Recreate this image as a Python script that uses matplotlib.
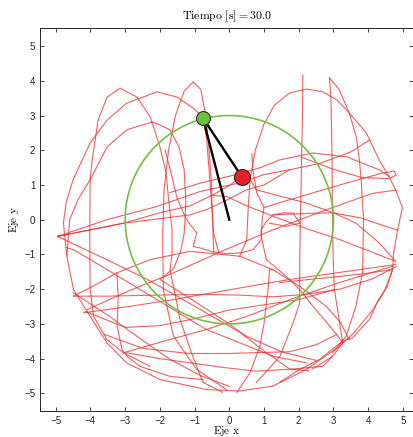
import numpy as np
import matplotlib
matplotlib.use("Agg")
import matplotlib.pyplot as plt

# Estado del pendulo doble en t = 30 s
t_final = 30.0
L1 = 3.0
rod_x = [0.0, -0.76, 0.36]
rod_y = [0.0, 2.93, 1.24]

# Tramos de la trayectoria de la segunda masa (x, y)
arc_a = [(-2.29, -4.22), (-3.05, -3.83), (-3.53, -3.45), (-3.91, -2.78), (-4.01, -2.01),
         (-4.02, -0.5), (-4.01, 1.15), (-3.95, 1.72), (-3.78, 2.87), (-3.52, 3.53), (-3.15, 3.79),
         (-2.66, 3.53), (-2.28, 2.96), (-2.0, 2.1), (-1.82, 1.35), (-1.75, 0.6), (-1.65, -0.3),
         (-1.65, -1.0), (-1.71, -1.44), (-1.55, -2.2), (-1.42, -2.87), (-1.1, -3.8),
         (-0.76, -4.68), (-0.19, -4.97)]
arc_b = [(-0.3, -0.95), (-0.45, -0.4), (-0.5, 0.3), (-0.56, 1.15), (-0.65, 2.3), (-0.76, 2.96),
         (-1.05, 3.22), (-1.51, 3.53), (-2.08, 3.68), (-2.95, 3.36), (-3.52, 2.87), (-4.01, 2.21),
         (-4.5, 1.15), (-4.7, 0.5), (-4.78, -0.1), (-4.68, -1.05), (-4.49, -2.01), (-4.01, -2.78),
         (-3.53, -3.54), (-2.96, -4.12), (-2.0, -4.6), (-0.66, -4.89), (0.3, -4.93), (1.26, -4.79)]
arc_c = [(-4.68, -1.05), (-4.6, 0.0), (-4.35, 0.6), (-4.01, 1.15), (-3.52, 2.1), (-2.95, 2.59),
         (-2.2, 2.82), (-1.71, 2.59), (-1.45, 2.1), (-1.3, 1.44), (-1.25, 0.5), (-1.3, -0.4),
         (-1.4, -0.9), (-1.6, -1.4), (-2.0, -1.72), (-1.0, -2.35), (0.0, -3.0), (0.9, -3.7),
         (1.74, -4.3), (2.3, -4.35)]
loop_d = [(-0.08, -4.89), (-0.94, -4.31), (-1.61, -3.35), (-1.9, -2.01), (-1.92, -0.5),
          (-1.88, 0.86), (-1.75, 2.0), (-1.55, 3.0), (-1.3, 3.7), (-1.04, 3.97), (-0.82, 3.75),
          (-0.68, 3.0), (-0.6, 2.2), (-0.52, 1.15), (-0.48, 0.0), (-0.45, -0.95)]
arc_e = [(0.3, -1.05), (0.5, -0.6), (0.55, 0.4), (0.6, 1.15), (0.75, 2.0), (1.0, 2.75), (1.3, 3.3),
         (1.74, 3.65), (2.23, 3.76), (2.7, 3.68), (3.1, 3.45), (3.46, 3.07), (3.95, 2.5),
         (4.32, 1.72), (4.6, 1.25), (4.8, 0.85), (4.99, 0.35), (4.85, -0.3), (4.73, -1.0),
         (4.71, -1.44), (4.45, -2.1), (4.13, -2.6), (3.6, -3.25), (3.18, -3.64), (2.22, -4.31),
         (1.26, -4.79)]
line_f = [(2.12, 4.17), (2.11, 3.0), (2.08, 1.5), (2.05, 0.0), (2.03, -1.2), (2.03, -2.39),
          (1.84, -2.97), (1.46, -3.93), (0.78, -4.69)]
cusp_g1 = [(2.89, 4.08), (2.93, 3.5), (2.96, 2.0), (2.97, 0.5), (2.99, -1.0), (3.03, -2.01),
           (3.18, -2.97), (3.27, -3.54), (2.98, -3.93), (2.4, -4.3)]
cusp_g2 = [(2.89, 4.08), (3.17, 3.74), (3.46, 3.07), (3.66, 2.39), (3.75, 1.72), (3.8, 1.15),
           (3.87, 0.0), (3.84, -1.53), (3.65, -2.49), (3.37, -3.35), (2.98, -3.83)]
arc_h = [(-1.71, 0.78), (-0.85, 1.05), (0.2, 1.3), (0.9, 1.5), (1.45, 1.72), (2.4, 1.92),
         (3.38, 1.81), (4.32, 1.44), (4.6, 1.25)]
lobe_r = [(1.0, 0.35), (1.45, 0.49), (2.5, 0.8), (3.6, 1.12), (4.4, 1.34), (4.76, 1.4),
          (4.81, 1.28), (4.6, 1.18), (4.2, 1.2), (3.84, 1.21), (3.0, 1.45), (2.08, 1.8)]
mid_1 = [(-4.95, -0.48), (-3.53, 0.0), (-2.09, 0.38), (-0.85, 0.81), (0.3, 1.06), (1.0, 1.3),
         (1.74, 1.44), (2.6, 1.62), (3.5, 1.95), (4.05, 2.3)]
mid_2 = [(-4.95, -0.48), (-3.05, -0.1), (-2.0, 0.2), (-1.13, 0.4), (-0.5, 0.7), (0.0, 0.98),
         (0.22, 1.15), (0.36, 1.24)]
mid_3 = [(-4.95, -0.48), (-3.53, -1.15), (-2.4, -1.7), (-1.33, -2.3), (0.49, -3.35), (1.5, -3.8),
         (2.5, -4.05)]
mid_4 = [(-4.7, -0.8), (-4.49, -0.86), (-3.5, -1.45), (-2.57, -2.01), (-0.66, -3.16),
         (1.26, -3.93), (2.22, -4.12)]
mid_5 = [(0.6, 1.15), (0.78, 0.86), (2.22, 0.48), (3.0, 0.2), (3.65, -0.1), (4.3, -0.65),
         (4.8, -1.2), (3.18, -0.57), (2.2, -0.25), (1.26, 0.1), (0.5, 0.4), (-0.08, 0.67),
         (-0.5, 0.7)]
mid_6 = [(-4.95, -0.48), (-3.05, -0.1), (-1.13, 0.14), (-0.66, 0.29), (0.0, 0.6), (0.49, 0.86),
         (1.0, 1.0), (1.74, 1.44)]
mid_7 = [(1.26, 0.14), (2.2, 0.18), (2.97, 0.2), (3.8, 0.05), (4.53, -0.2), (4.85, -0.3)]
bowl = [(-1.85, 2.0), (-1.7, 1.44), (-1.5, 0.6), (-1.23, 0.0), (-0.94, -0.38), (-1.04, -0.77),
        (-0.85, -0.81), (-0.5, -0.92), (-0.08, -0.98), (0.35, -0.95), (0.69, -0.86), (0.92, -0.57),
        (0.92, -0.29), (1.07, -0.05), (1.26, 0.14), (1.55, 0.2), (1.84, 0.19), (2.03, -0.1),
        (1.64, -0.19), (1.16, -0.1)]
right_in = [(0.65, 1.9), (0.68, 1.44), (0.79, 0.78), (1.0, 0.35), (0.95, 0.0), (0.92, -0.48),
            (1.07, -1.15), (1.64, -1.63), (2.03, -2.01), (2.41, -2.49), (2.98, -3.16),
            (3.27, -3.54)]
dome = [(-4.49, -2.2), (-3.9, -1.9), (-3.24, -1.53), (-2.28, -1.15), (-1.13, -0.91), (0.3, -1.05),
        (1.26, -1.44), (2.03, -1.92), (2.79, -2.49), (3.2, -2.95), (3.46, -3.45)]
flat_1 = [(-4.49, -2.2), (-3.5, -2.2), (-2.57, -2.18), (-1.6, -2.16), (-0.66, -2.15),
          (0.3, -2.17), (1.26, -2.22), (2.2, -2.15), (3.18, -2.0), (4.13, -1.7), (4.8, -1.35)]
rise_1 = [(-4.2, -2.68), (-2.9, -2.5), (-1.61, -2.3), (0.1, -2.0), (1.74, -1.72), (3.3, -1.5),
          (4.8, -1.29)]
rise_2 = [(-4.1, -2.59), (-2.9, -2.05), (-1.61, -1.53), (-0.2, -0.9), (1.26, -0.29), (2.7, 0.25),
          (4.13, 0.76), (4.8, 0.85)]
rise_3 = [(-3.05, -3.83), (-1.9, -3.5), (-0.66, -3.16), (0.6, -2.75), (1.74, -2.3), (3.2, -1.8),
          (4.71, -1.34)]
low_1 = [(-2.96, -3.83), (-2.0, -4.0), (-1.13, -4.12), (-0.2, -4.25), (0.78, -4.36),
         (1.8, -4.3), (2.7, -4.22), (2.98, -3.93)]
low_2 = [(-4.15, -2.64), (-3.0, -3.1), (-2.0, -3.05), (-1.0, -2.85), (0.0, -2.6), (1.0, -2.45),
         (2.0, -2.3), (3.03, -2.01)]
low_3 = [(-4.5, -2.1), (-3.5, -2.75), (-2.6, -3.4), (-1.71, -4.02), (-0.8, -4.5), (0.0, -4.8)]
low_4 = [(-3.6, -3.3), (-2.5, -3.7), (-1.2, -3.85), (0.0, -3.85), (1.0, -3.82), (1.74, -3.8),
         (2.5, -3.6), (3.1, -3.3)]
low_5 = [(-3.24, -1.53), (-3.2, -2.2), (-3.23, -3.07), (-3.09, -3.74), (-2.94, -3.94),
         (-2.57, -4.22), (-1.71, -4.51), (-0.76, -4.6)]
low_7 = [(1.45, -1.81), (2.3, -1.72), (3.0, -1.65), (3.9, -1.55), (4.7, -1.44), (4.55, -1.93),
         (4.3, -2.3), (4.04, -2.87), (3.55, -3.4), (3.26, -3.5), (2.6, -4.02), (2.03, -4.31),
         (1.45, -4.68)]
low_8 = [(1.26, -1.44), (1.16, -1.44), (1.12, -2.0), (1.08, -2.3), (1.0, -3.0), (0.88, -3.65),
         (0.6, -4.4), (0.22, -4.97)]

trajectory = [arc_a, arc_b, arc_c, loop_d, arc_e, line_f, cusp_g1, cusp_g2, arc_h, lobe_r,
              mid_1, mid_2, mid_3, mid_4, mid_5, mid_6, mid_7, bowl, right_in, dome,
              flat_1, rise_1, rise_2, rise_3, low_1, low_2, low_3, low_4, low_5, low_7, low_8]

plt.rcParams['mathtext.fontset'] = 'cm'
plt.rcParams['font.family'] = ['Liberation Sans', 'DejaVu Sans']

fig = plt.figure(figsize=(4.14, 4.37), dpi=100)
ax = fig.add_axes([0.097, 0.06, 0.901, 0.876])

for seg in trajectory:
    xs, ys = zip(*seg)
    ax.plot(xs, ys, color='#ee2a2a', lw=0.8, alpha=0.75)

# circulo que recorre la primera masa
th = np.linspace(0, 2 * np.pi, 300)
ax.plot(L1 * np.cos(th), L1 * np.sin(th), color='#72bf44', lw=1.2)

# barras y masas
ax.plot(rod_x, rod_y, color='black', lw=1.7)
ax.plot(rod_x[1], rod_y[1], 'o', ms=10, mfc='#6abf45', mec='#2a3a20', mew=0.8)
ax.plot(rod_x[2], rod_y[2], 'o', ms=11.5, mfc='#e8202a', mec='#3a1a1a', mew=0.8)

ax.set_xlim(-5.45, 5.3)
ax.set_ylim(-5.5, 5.52)
ax.set_xticks(np.arange(-5, 6))
ax.set_yticks(np.arange(-5, 6))
ax.tick_params(direction='in', top=True, right=True, length=3, width=0.6,
               labelsize=7, colors='#262626')
for s in ax.spines.values():
    s.set_linewidth(0.7)
    s.set_color('#262626')

ax.set_title(r'$\mathrm{Tiempo\ [s]} = %.1f$' % t_final, fontsize=8.5, pad=6)
ax.set_xlabel(r'$\mathrm{Eje\ x}$', fontsize=8, labelpad=-1)
ax.set_ylabel(r'$\mathrm{Eje\ y}$', fontsize=8, labelpad=2)

fig.savefig('out.png', dpi=100)
